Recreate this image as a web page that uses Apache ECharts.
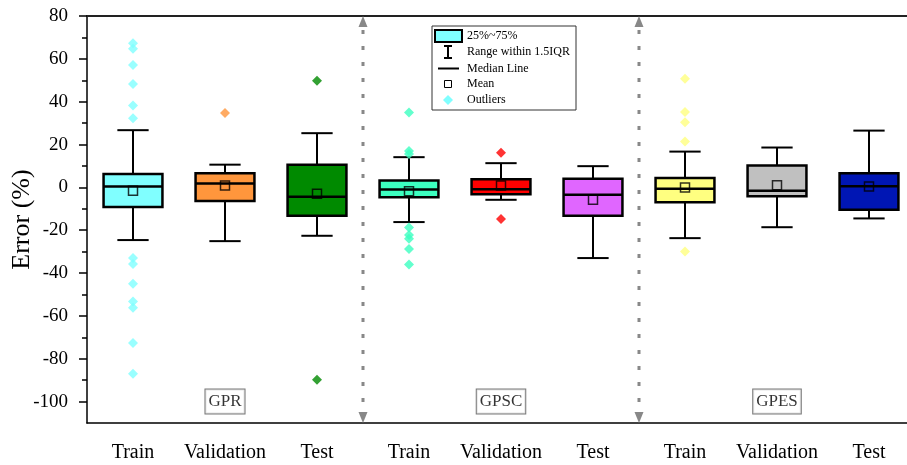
<!DOCTYPE html>
<html>
<head>
<meta charset="utf-8">
<script src="https://cdn.jsdelivr.net/npm/echarts@6/dist/echarts.min.js"></script>
<style>html,body{margin:0;padding:0;background:#fff;}#c{width:907px;height:465px;}</style>
</head>
<body>
<div id="c"></div>
<script>
const categories = ['Train','Validation','Test','Train','Validation','Test','Train','Validation','Test'];
const groupNames = ['GPR','GPSC','GPES'];
const groupCenters = [1, 4, 7];
const groupLabelY = [-100, -100, -100];
const separators = [[2, 3], [5, 6]];
const whiskerLow  = [-24.6, -25.1, -22.6, -16.2, -5.8, -33.0, -23.7, -18.6, -14.5];
const q1          = [-9.2, -6.4, -13.3, -4.6, -3.2, -13.3, -6.9, -4.1, -10.5];
const median      = [0.4, 1.8, -4.4, -1.0, -0.9, -3.4, -0.6, -1.6, 0.5];
const q3          = [6.2, 6.6, 10.6, 3.2, 3.8, 4.0, 4.4, 10.2, 6.6];
const whiskerHigh = [26.7, 10.6, 25.3, 14.1, 11.3, 9.9, 16.7, 18.6, 26.5];
const means       = [-1.6, 0.9, -3.0, -1.8, 0.9, -5.8, -0.1, 1.0, 0.4];
const outliers = [
  [67.3, 64.7, 57.1, 48.3, 38.2, 32.3, -33.0, -35.8, -45.0, -53.3, -56.2, -72.7, -87.0],
  [34.7],
  [49.8, -89.8],
  [34.9, 17.0, 15.6, -18.7, -22.2, -24.0, -28.8, -36.0],
  [16.2, -14.8],
  [],
  [50.7, 35.2, 30.4, 21.4, -29.9],
  [],
  []
];
const boxColors = ['#80ffff', '#ff963c', '#008a00', '#3cffc0', '#ff0000', '#e066ff', '#ffff80', '#c0c0c0', '#0016b4'];
const yMajorTicks = [-100, -80, -60, -40, -20, 0, 20, 40, 60, 80];
const yMinorTicks = [-90, -70, -50, -30, -10, 10, 30, 50, 70];
const legendLabels = ['25%~75%', 'Range within 1.5IQR', 'Median Line', 'Mean', 'Outliers'];

const SERIF = '"Liberation Serif", "Times New Roman", serif';

const boxData = categories.map((c, i) => [i, whiskerLow[i], q1[i], median[i], q3[i], whiskerHigh[i]]);
const meanData = means.map((m, i) => [i, m]);
const outlierData = [];
outliers.forEach((arr, i) => arr.forEach(v => outlierData.push({ value: [i, v], itemStyle: { color: boxColors[i] } })));
const groupData = groupCenters.map((c, i) => [c, groupLabelY[i]]);

const chart = echarts.init(document.getElementById('c'), null, { renderer: 'canvas' });

const option = {
  animation: false,
  backgroundColor: '#fff',
  grid: { left: 87, top: 16, width: 828, height: 407, containLabel: false, outerBoundsMode: 'none' },
  xAxis: [
    {
      type: 'category', data: categories, boundaryGap: true, position: 'bottom',
      axisLine: { onZero: false, lineStyle: { color: '#000', width: 1.5 } },
      axisTick: { alignWithLabel: true, interval: 0, length: 8, inside: false, lineStyle: { color: '#000', width: 1.5 } },
      axisLabel: { interval: 0, hideOverlap: false, fontFamily: SERIF, fontSize: 20, color: '#000', margin: 20 },
      splitLine: { show: false }
    },
    {
      type: 'category', data: categories, position: 'top',
      axisLine: { onZero: false, lineStyle: { color: '#222', width: 2 } },
      axisTick: { show: false }, axisLabel: { show: false }, splitLine: { show: false }
    }
  ],
  yAxis: [
    {
      type: 'value', min: -110, max: 80, position: 'left',
      name: 'Error (%)', nameLocation: 'middle', nameGap: 52, nameRotate: 90, nameMoveOverlap: false,
      nameTextStyle: { fontFamily: SERIF, fontSize: 26, color: '#000' },
      axisLine: { show: true, onZero: false, lineStyle: { color: '#000', width: 1.5 } },
      axisTick: { show: true, length: 8, customValues: yMajorTicks, lineStyle: { color: '#000', width: 1.5 } },
      axisLabel: { customValues: yMajorTicks, fontFamily: SERIF, fontSize: 19, color: '#000', margin: 19 },
      splitLine: { show: false }
    },
    {
      type: 'value', min: -110, max: 80, position: 'left',
      axisLine: { show: false, onZero: false },
      axisTick: { show: true, length: 5, customValues: yMinorTicks, lineStyle: { color: '#000', width: 1.5 } },
      axisLabel: { show: false },
      splitLine: { show: false }
    }
  ],
  series: [
    {
      type: 'custom', name: 'separators', data: separators, z: 1, clip: false,
      renderItem: function (params, api) {
        const xa = api.coord([api.value(0), 0])[0];
        const xb = api.coord([api.value(1), 0])[0];
        const x = (xa + xb) / 2;
        const yTop = api.coord([api.value(0), 80])[1];
        const yBot = api.coord([api.value(0), -110])[1];
        const col = '#888';
        return {
          type: 'group', children: [
            { type: 'line', shape: { x1: x, y1: yTop + 14, x2: x, y2: yBot - 12 },
              style: { stroke: col, lineWidth: 3, lineDash: [4, 12] } },
            { type: 'polygon', shape: { points: [[x, yTop], [x + 4.5, yTop + 11], [x - 4.5, yTop + 11]] }, style: { fill: col } },
            { type: 'polygon', shape: { points: [[x, yBot], [x + 4.5, yBot - 11], [x - 4.5, yBot - 11]] }, style: { fill: col } }
          ]
        };
      }
    },
    {
      type: 'custom', name: 'boxes', data: boxData, z: 2,
      renderItem: function (params, api) {
        const i = api.value(0);
        const band = api.size([1, 0])[0];
        const hw = band * 0.32, cw = band * 0.17;
        const pLow = api.coord([i, api.value(1)]);
        const pQ1 = api.coord([i, api.value(2)]);
        const pMed = api.coord([i, api.value(3)]);
        const pQ3 = api.coord([i, api.value(4)]);
        const pHigh = api.coord([i, api.value(5)]);
        const x = pMed[0];
        const ls = { stroke: '#000', lineWidth: 2 };
        return {
          type: 'group', children: [
            { type: 'line', shape: { x1: x, y1: pHigh[1], x2: x, y2: pQ3[1] }, style: ls },
            { type: 'line', shape: { x1: x, y1: pQ1[1], x2: x, y2: pLow[1] }, style: ls },
            { type: 'line', shape: { x1: x - cw, y1: pHigh[1], x2: x + cw, y2: pHigh[1] }, style: ls },
            { type: 'line', shape: { x1: x - cw, y1: pLow[1], x2: x + cw, y2: pLow[1] }, style: ls },
            { type: 'rect', shape: { x: x - hw, y: pQ3[1], width: hw * 2, height: pQ1[1] - pQ3[1] },
              style: { fill: boxColors[params.dataIndex], stroke: '#000', lineWidth: 2.5 } },
            { type: 'line', shape: { x1: x - hw, y1: pMed[1], x2: x + hw, y2: pMed[1] }, style: { stroke: '#000', lineWidth: 2.5 } }
          ]
        };
      }
    },
    {
      type: 'scatter', name: 'mean', data: meanData, z: 3,
      symbol: 'rect', symbolSize: 9,
      itemStyle: { color: 'rgba(0,0,0,0)', borderColor: '#000', borderWidth: 1.5 }
    },
    {
      type: 'scatter', name: 'outliers', data: outlierData, z: 3,
      symbol: 'diamond', symbolSize: [10, 10]
    },
    {
      type: 'scatter', name: 'groups', data: groupData, z: 4, symbolSize: 0,
      label: {
        show: true, position: 'inside',
        formatter: function (p) { return groupNames[p.dataIndex]; },
        fontFamily: SERIF, fontSize: 17, color: '#000',
        borderColor: '#555', borderWidth: 1, padding: [4, 3, 3, 3], backgroundColor: '#fff'
      }
    }
  ],
  graphic: [
    {
      type: 'group', x: 432, y: 26, z: 100,
      children: [
        { type: 'rect', shape: { x: 0, y: 0, width: 144, height: 84 }, style: { fill: '#fff', stroke: '#333', lineWidth: 1 } },
        { type: 'rect', shape: { x: 3, y: 4, width: 27, height: 12 }, style: { fill: '#80ffff', stroke: '#000', lineWidth: 2 } },
        { type: 'line', shape: { x1: 16, y1: 20, x2: 16, y2: 32 }, style: { stroke: '#000', lineWidth: 2 } },
        { type: 'line', shape: { x1: 12, y1: 20, x2: 20, y2: 20 }, style: { stroke: '#000', lineWidth: 2 } },
        { type: 'line', shape: { x1: 12, y1: 32, x2: 20, y2: 32 }, style: { stroke: '#000', lineWidth: 2 } },
        { type: 'line', shape: { x1: 6, y1: 42.5, x2: 27, y2: 42.5 }, style: { stroke: '#000', lineWidth: 2 } },
        { type: 'rect', shape: { x: 12.5, y: 54.5, width: 7, height: 7 }, style: { fill: 'none', stroke: '#000', lineWidth: 1 } },
        { type: 'polygon', shape: { points: [[16, 69], [21, 74], [16, 79], [11, 74]] }, style: { fill: '#80ffff' } },
        { type: 'text', style: { text: legendLabels[0], x: 35, y: 10, font: '12px ' + SERIF, fill: '#000', verticalAlign: 'middle' } },
        { type: 'text', style: { text: legendLabels[1], x: 35, y: 26, font: '12px ' + SERIF, fill: '#000', verticalAlign: 'middle' } },
        { type: 'text', style: { text: legendLabels[2], x: 35, y: 42.5, font: '12px ' + SERIF, fill: '#000', verticalAlign: 'middle' } },
        { type: 'text', style: { text: legendLabels[3], x: 35, y: 58, font: '12px ' + SERIF, fill: '#000', verticalAlign: 'middle' } },
        { type: 'text', style: { text: legendLabels[4], x: 35, y: 74, font: '12px ' + SERIF, fill: '#000', verticalAlign: 'middle' } }
      ]
    }
  ]
};
chart.setOption(option);
</script>
</body>
</html>
